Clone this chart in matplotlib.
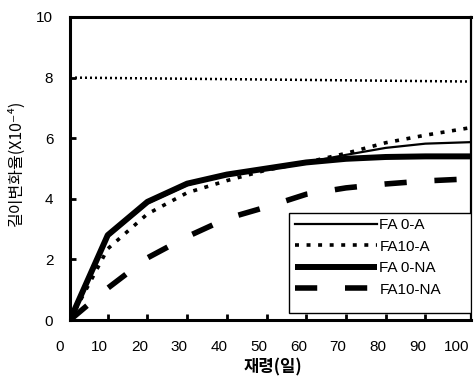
import matplotlib
matplotlib.use("Agg")
import matplotlib.pyplot as plt
from matplotlib.patches import Rectangle

plt.rcParams['font.family'] = ['Liberation Sans', 'DejaVu Sans']

# age (days) at the measured points
days = [2.5, 12, 22, 32, 42, 52, 62, 72, 82, 92, 103.5]

fa0_a = [0, 2.75, 3.85, 4.45, 4.8, 5.0, 5.2, 5.45, 5.68, 5.82, 5.87]
fa10_a = [0, 2.35, 3.5, 4.2, 4.6, 4.95, 5.2, 5.5, 5.85, 6.1, 6.35]
fa0_na = [0, 2.8, 3.9, 4.5, 4.8, 5.0, 5.2, 5.32, 5.38, 5.4, 5.4]
fa10_na = [0, 1.05, 2.05, 2.75, 3.35, 3.73, 4.15, 4.36, 4.49, 4.59, 4.66]

# upper reference line
ref_days = [2.5, 103.5]
ref_vals = [8.0, 7.87]

xtick_labels = [0, 10, 20, 30, 40, 50, 60, 70, 80, 90, 100]
xtick_marks = [12, 22, 32, 42, 52, 62, 72, 82, 92]
ytick_vals = [0, 2, 4, 6, 8, 10]

fig = plt.figure(figsize=(4.74, 3.82), dpi=100)
ax = fig.add_axes([0.1477, 0.1623, 0.846, 0.7932])

ax.plot(ref_days, ref_vals, color='black', lw=1.8, linestyle=(0, (0.8, 1.2)))
l3, = ax.plot(days, fa0_na, color='black', lw=4.3, solid_joinstyle='round',
              solid_capstyle='butt', label='FA 0-NA')
l4, = ax.plot(days, fa10_na, color='black', lw=4.0, linestyle=(0, (4, 5)),
              dash_capstyle='butt', label='FA10-NA')
l2, = ax.plot(days, fa10_a, color='black', lw=2.6, linestyle=(0, (1.1, 2.1)),
              label='FA10-A')
l1, = ax.plot(days, fa0_a, color='black', lw=1.6, label='FA 0-A')

ax.set_xlim(2.5, 103.5)
ax.set_ylim(0, 10)

for side in ['left', 'bottom', 'top']:
    ax.spines[side].set_linewidth(2.2)
ax.spines['right'].set_linewidth(1.6)

ax.set_xticks(xtick_marks)
ax.set_xticklabels([])
ax.tick_params(axis='x', direction='in', length=4, width=2)
ax.set_yticks(ytick_vals)
ax.set_yticklabels([str(v) for v in ytick_vals], fontsize=11)
ax.tick_params(axis='y', direction='in', length=4, width=2, pad=12)

for v in xtick_labels:
    ax.text(v, -0.089, str(v), transform=ax.get_xaxis_transform(),
            ha='center', va='center', fontsize=11, clip_on=False)

ax.set_ylabel('길이변화율(X10⁻⁴)', family=['Noto Sans CJK KR', 'DejaVu Sans'],
              fontsize=11.5)
ax.yaxis.set_label_coords(-0.112, 0.52)
fig.text(0.576, 0.038, '재령(일)', family=['Noto Sans CJK KR', 'DejaVu Sans'],
         fontsize=12, fontweight='bold', ha='center', va='center')

# legend box
ax.add_patch(Rectangle((0.546, 0.023), 0.454, 0.33, transform=ax.transAxes,
                       fill=True, facecolor='white', edgecolor='black', lw=1.0,
                       zorder=4))
leg = ax.legend([l1, l2, l3, l4], ['FA 0-A', 'FA10-A', 'FA 0-NA', 'FA10-NA'],
                loc='upper left', bbox_to_anchor=(0.561, 0.337), frameon=False,
                borderpad=0, borderaxespad=0, handlelength=5.4,
                handletextpad=0.12, labelspacing=0.5, fontsize=11)
leg.set_zorder(5)

fig.savefig('out.png', dpi=100)
